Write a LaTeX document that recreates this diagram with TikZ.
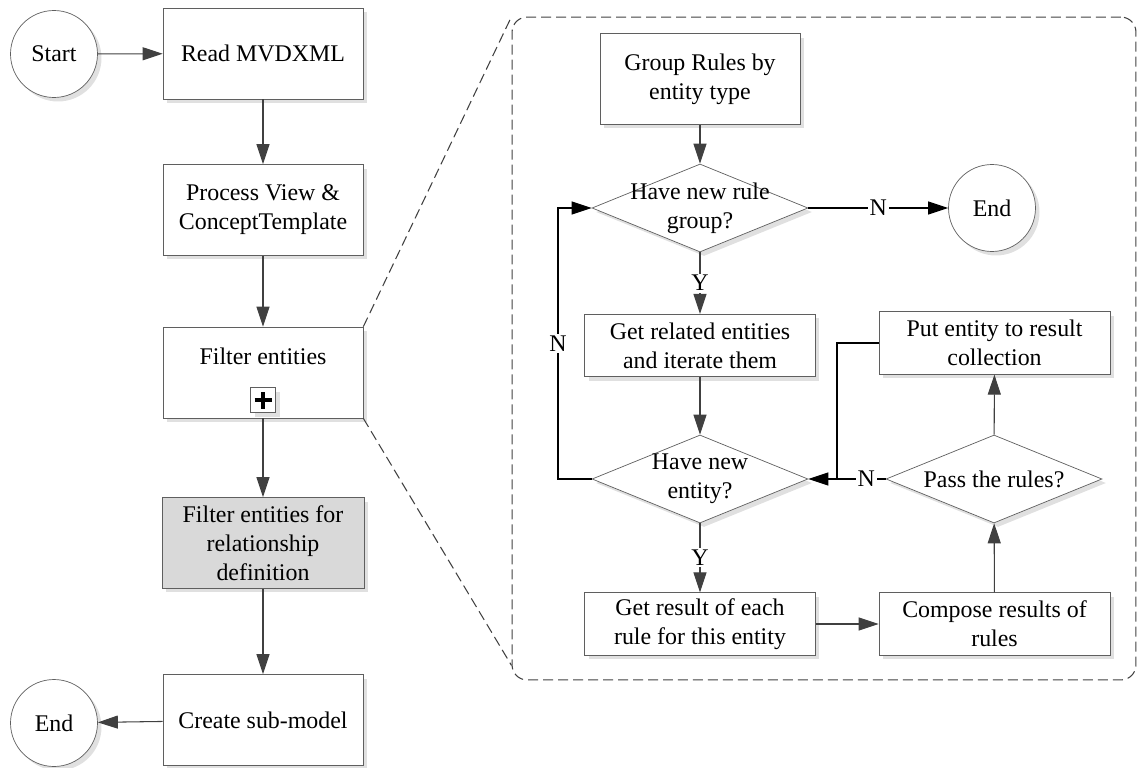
\documentclass[tikz,border=0pt]{standalone}
\usepackage{fontspec}
\setmainfont{Liberation Serif}
\usetikzlibrary{arrows.meta,shapes.geometric,shadows}
\definecolor{linegray}{HTML}{404040}
\definecolor{edgegray}{HTML}{5F5F5F}
\definecolor{boxgray}{HTML}{D9D9D9}

\begin{document}
\begin{tikzpicture}[x=0.02cm,y=-0.02cm,
    font=\fontsize{13.6}{16.5}\selectfont,
    dshadow/.style={drop shadow={shadow xshift=0.08cm,shadow yshift=-0.08cm,fill=black!12,opacity=1}},
    proc/.style={draw=edgegray,fill=white,rectangle,align=center,inner sep=2pt,dshadow,
        minimum width=4cm,minimum height=1.82cm},
    wide/.style={proc,minimum width=4.62cm,minimum height=1.25cm},
    term/.style={draw=edgegray,fill=white,circle,minimum size=1.74cm,inner sep=0pt,dshadow},
    decision/.style={draw=edgegray,fill=white,diamond,minimum width=4.32cm,
        minimum height=1.76cm,inner sep=0pt,dshadow},
    flow/.style={draw=linegray,line width=0.6pt,-{Triangle[length=0.4cm,width=0.26cm]}},
    back/.style={draw=black,line width=0.6pt},
    zoomline/.style={draw=linegray,line width=0.6pt,dash pattern=on 0.2cm off 0.1cm},
    yn/.style={fill=white,inner sep=1pt}]

    \useasboundingbox (0,0) rectangle (1138,767);

    % detail frame
    \node[zoomline,rounded corners=0.3cm,minimum width=12.48cm,minimum height=13.26cm]
        (detail) at (824,348.5) {};

    % main flow
    \node[term] (start) at (54,54) {Start};
    \node[proc] (read) at (263,53.5) {Read MVDXML};
    \node[proc] (view) at (263,210) {Process View \&\\ConceptTemplate};
    \node[proc,label={[anchor=north,yshift=-0.3cm]north:Filter entities}]
        (filt) at (263,372.5) {};
    \node[draw=edgegray,fill=white,minimum size=0.5cm,inner sep=0pt,dshadow]
        (plus) at (263,400) {};
    \draw[line width=2.4pt] ([xshift=-0.17cm]plus.center) -- ([xshift=0.17cm]plus.center);
    \draw[line width=2.4pt] ([yshift=-0.17cm]plus.center) -- ([yshift=0.17cm]plus.center);
    \node[proc,fill=boxgray,minimum width=4.04cm] (rel) at (263,543)
        {Filter entities for\\relationship\\definition};
    \node[proc] (create) at (263,720) {Create sub-model};
    \node[term] (end) at (54,723) {End};

    \draw[flow] (start) -- (read);
    \draw[flow] (read) -- (view);
    \draw[flow] (view) -- (filt);
    \draw[flow] (filt) -- (rel);
    \draw[flow] (rel) -- (create);
    \draw[flow] (create) -- (end);

    \draw[zoomline] (filt.north east) -- (detail.north west);
    \draw[zoomline] (filt.south east) -- ([yshift=0.3cm]detail.south west);

    % rule checking detail
    \node[proc] (group) at (700,79) {Group Rules by\\entity type};
    \node[decision,label={[align=center]center:Have new rule\\group?}] (newgrp) at (700,208) {};
    \node[term] (endr) at (992,208) {End};
    \node[wide] (related) at (700,345.5) {Get related entities\\and iterate them};
    \node[wide] (put) at (994.5,343) {Put entity to result\\collection};
    \node[decision,label={[align=center]center:Have new\\entity?}] (newent) at (700,479) {};
    \node[decision,label={[align=center]center:Pass the rules?}] (pass) at (994,479) {};
    \node[wide] (result) at (700,624) {Get result of each\\rule for this entity};
    \node[wide] (compose) at (994.5,624) {Compose results of\\rules};

    \coordinate (lft) at (558,479);
    \coordinate (join) at (837,479);

    \draw[flow] (group) -- (newgrp);
    \draw[flow] (newgrp) -- node[yn]{Y} (related);
    \draw[flow,draw=black] (newgrp) -- node[yn]{N} (endr);
    \draw[flow] (related) -- (newent);
    \draw[flow] (newent) -- node[yn]{Y} (result);
    \draw[flow] (result) -- (compose);
    \draw[flow] (compose) -- (pass);
    \draw[flow] (pass) -- (put);
    \draw[flow,draw=black] (pass) -- node[yn,pos=0.25]{N} (newent);
    \draw[back] (put.west) -| (join);
    \draw[flow,draw=black] (newent.west) -- (lft) |- node[yn,pos=0.25]{N} (newgrp.west);

\end{tikzpicture}
\end{document}
